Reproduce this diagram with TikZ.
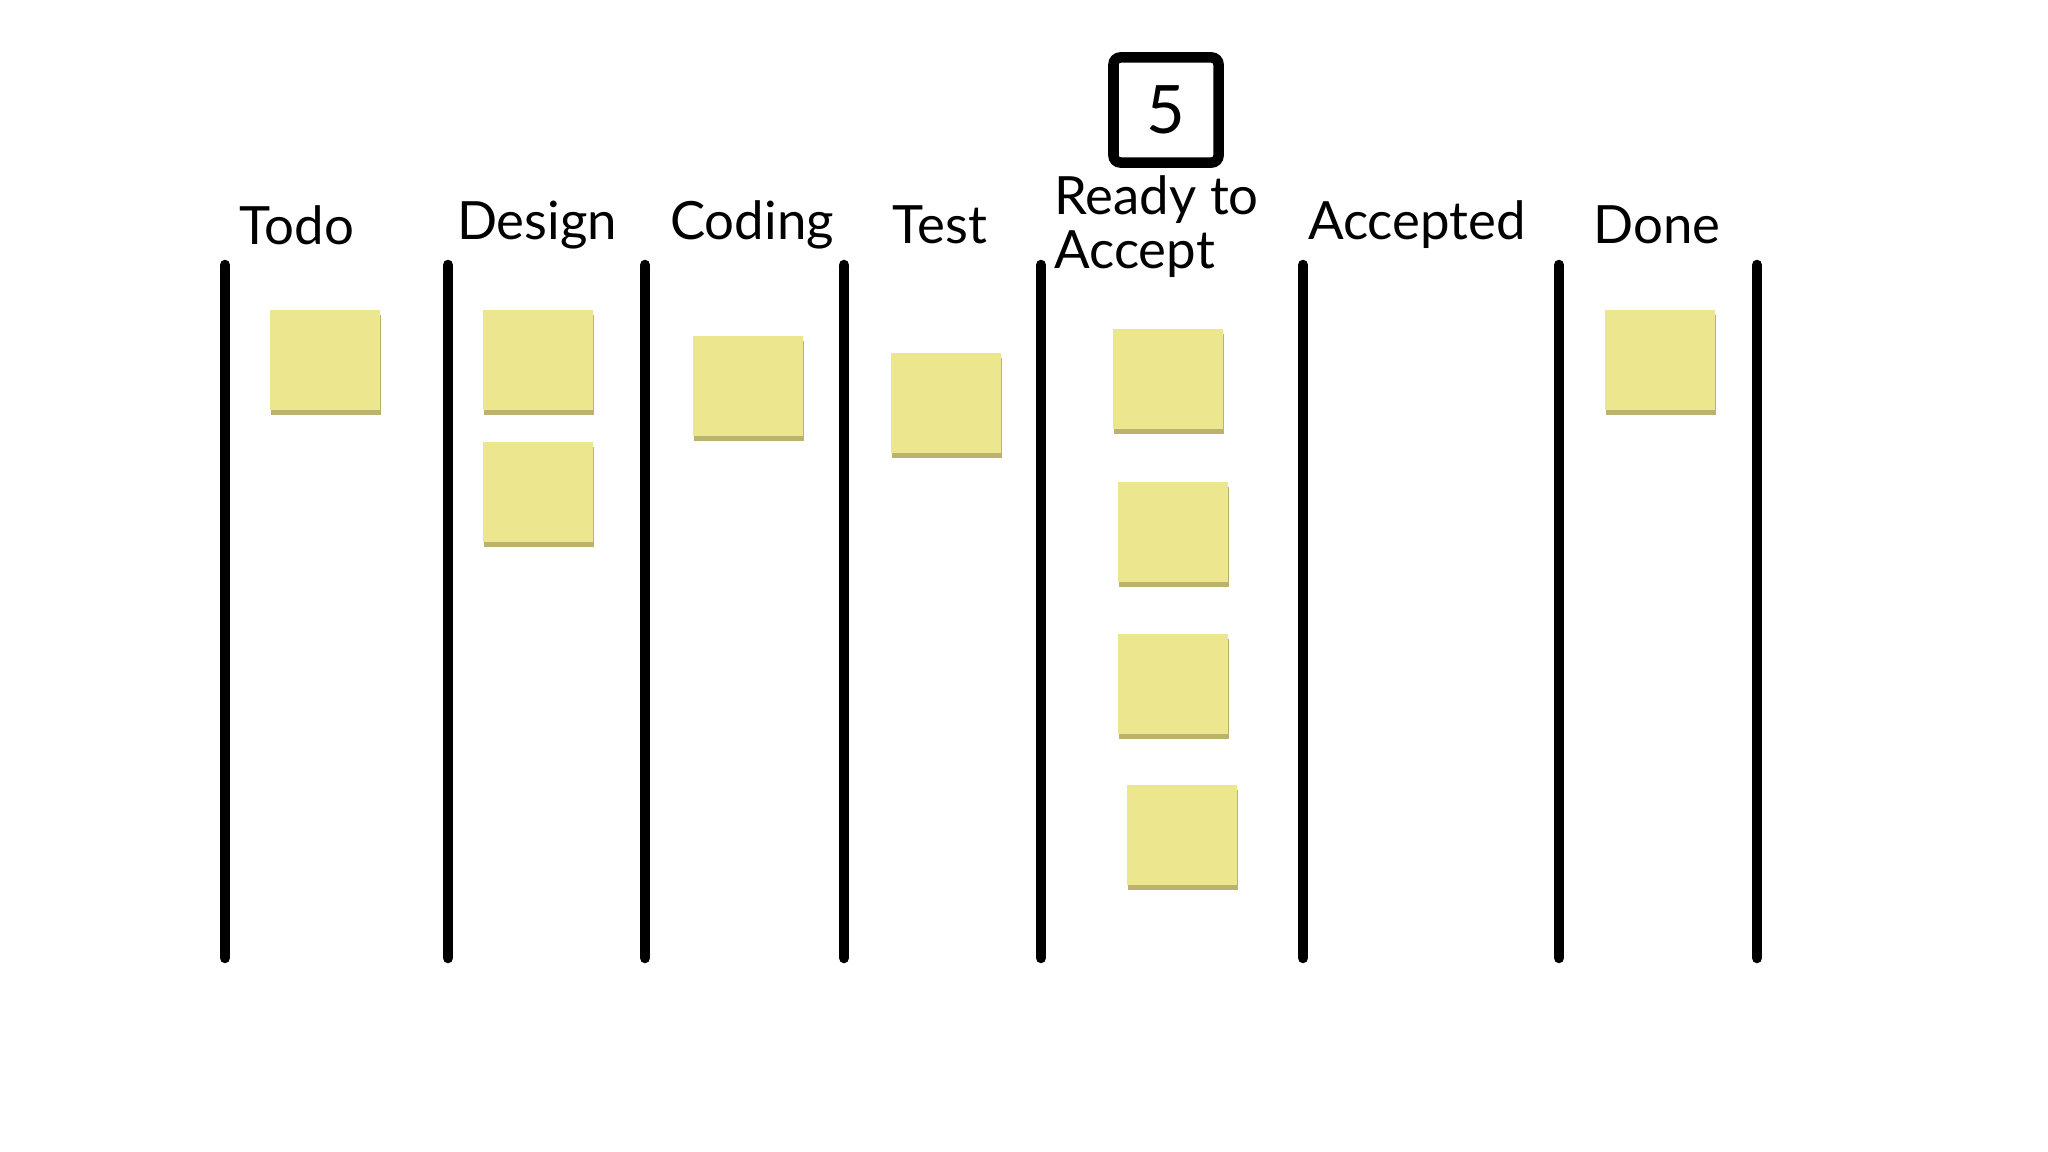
\documentclass[tikz,border=0pt]{standalone}
\usepackage{fontspec}
\setmainfont{Lato}
\usetikzlibrary{shadows}
\definecolor{notey}{RGB}{236,230,142}
\definecolor{noteshade}{RGB}{180,170,95}

\begin{document}
\begin{tikzpicture}[x=0.01cm,y=-0.01cm,
  lane/.style={line width=3pt,line cap=round},
  head/.style={font=\fontsize{15}{15.4}\selectfont},
  note/.style={rectangle,fill=notey,minimum width=1.1cm,minimum height=1cm,inner sep=0pt,
    drop shadow={shadow xshift=0.4pt,shadow yshift=-1.3pt,fill=noteshade,opacity=0.9}}]
\useasboundingbox[fill=white] (0,0) rectangle (2048,1152);
\foreach \x in {225,448,645,844,1041,1303,1559,1757}
  \draw[lane] (\x,265) -- (\x,958);
\node [head] (todo) at (297,225) {Todo};
\node [head] (design) at (537,225) {Design};
\node [head] (coding) at (752,225) {Coding};
\node [head] (test) at (940,225) {Test};
\node [head,align=left,anchor=west] (ready) at (1042,227) {Ready to\\Accept};
\node [head] (accepted) at (1417,225) {Accepted};
\node [head] (done) at (1657,225) {Done};
\node [rectangle,draw,line width=3pt,rounded corners=2pt,minimum size=1.05cm,
  font=\fontsize{19}{19}\selectfont] (limit) at (1166,110) {5};
\node [note] (todo1) at (325,360) {};
\node [note] (design1) at (538,360) {};
\node [note] (design2) at (538,492) {};
\node [note] (coding1) at (748,386) {};
\node [note] (test1) at (946,403) {};
\node [note] (ready1) at (1168,379) {};
\node [note] (ready2) at (1173,532) {};
\node [note] (ready3) at (1173,684) {};
\node [note] (ready4) at (1182,835) {};
\node [note] (done1) at (1660,360) {};
\end{tikzpicture}
\end{document}
